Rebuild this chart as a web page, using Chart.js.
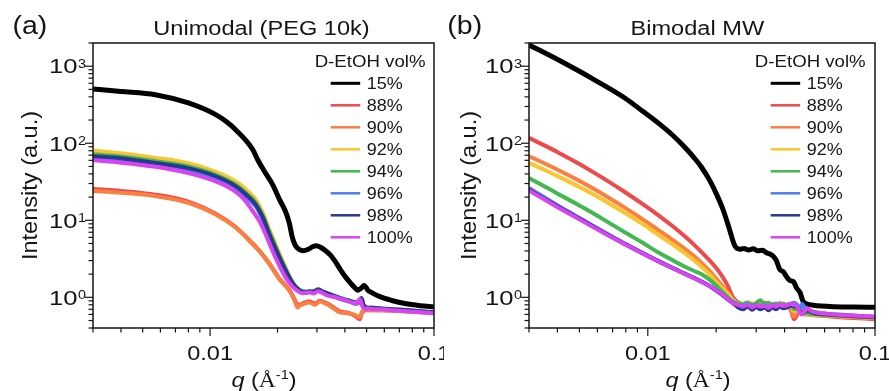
<!DOCTYPE html>
<html>
<head>
<meta charset="utf-8">
<title>SAXS curves</title>
<script src="https://cdn.jsdelivr.net/npm/chart.js@4.4.0/dist/chart.umd.min.js"></script>
<style>
  html, body { margin: 0; padding: 0; background: #fff; }
  #wrap { position: relative; width: 889px; height: 391px; overflow: hidden; }
  .panel { position: absolute; top: 0; height: 391px; }
  #panelA { left: 0; width: 444px; }
  #panelB { left: 444px; width: 445px; }
</style>
</head>
<body>
<div id="wrap">
  <div class="panel" id="panelA"><canvas id="chartA" width="444" height="391"></canvas></div>
  <div class="panel" id="panelB"><canvas id="chartB" width="445" height="391"></canvas></div>
</div>
<script>
// ---- data: legend entries ----
const seriesLabels = ['15%', '88%', '90%', '92%', '94%', '96%', '98%', '100%'];
const seriesColors = ['#000000', '#ec4a4b', '#fa7f40', '#fcc42e', '#41b94f', '#4f7ef3', '#27398f', '#d943f2'];

// ---- axis ticks ----
const xMajor = [0.01, 0.1];
const xMajorLabels = ['0.01', '0.1'];
const xMinor = [0.003, 0.004, 0.005, 0.006, 0.007, 0.008, 0.009, 0.02, 0.03, 0.04, 0.05, 0.06, 0.07, 0.08, 0.09];
const yMajor = [1, 10, 100, 1000];
const yMajorExp = ['0', '1', '2', '3'];
const yMinor = [0.4, 0.5, 0.6, 0.7, 0.8, 0.9, 2, 3, 4, 5, 6, 7, 8, 9, 20, 30, 40, 50, 60, 70, 80, 90,
                200, 300, 400, 500, 600, 700, 800, 900, 2000];

// ---- (a) Unimodal (PEG 10k) ----
const qA15 = [0.003, 0.004, 0.0057, 0.008, 0.0106, 0.0118, 0.013, 0.0155, 0.0163, 0.0175,
              0.019, 0.0204, 0.0217, 0.0226, 0.0233, 0.024, 0.0251, 0.0261, 0.0275, 0.0287,
              0.0299, 0.0311, 0.0328, 0.0345, 0.0364, 0.0383, 0.0403, 0.0424, 0.0442, 0.0456,
              0.0466, 0.0476, 0.0486, 0.0496, 0.0506, 0.0527, 0.0573, 0.0648, 0.0741, 0.0866, 0.1];
const iA15 = [506, 471, 427, 333, 235, 191, 150, 83, 61.5, 43,
              29.2, 18.7, 13.1, 9.15, 6.0, 4.75, 4.15, 4.03, 4.22, 4.54,
              4.68, 4.47, 4.03, 3.53, 2.86, 2.26, 1.83, 1.53, 1.34, 1.24,
              1.28, 1.34, 1.42, 1.36, 1.24, 1.15, 1.02, 0.91, 0.83, 0.78, 0.755];

const qAlow = [0.003, 0.004, 0.0057, 0.008, 0.0106, 0.013, 0.0155, 0.0169, 0.0184, 0.0204,
               0.0226, 0.0238, 0.0246, 0.0251, 0.0262, 0.0278, 0.0295, 0.0308, 0.0325, 0.0342,
               0.0379, 0.0415, 0.045, 0.0466, 0.0478, 0.0499, 0.053, 0.0575, 0.0657, 0.08, 0.1];
const iA88 = [25.5, 24, 21.5, 17.5, 12.2, 8.2, 5.0, 3.8, 2.75, 1.75,
              1.25, 0.95, 0.8, 0.8, 0.85, 0.88, 0.83, 0.9, 0.86, 0.8,
              0.66, 0.63, 0.56, 0.52, 0.64, 0.68, 0.68, 0.68, 0.67, 0.65, 0.63];
const iA90 = [24, 22.8, 20.6, 16.9, 11.9, 8.05, 4.9, 3.75, 2.7, 1.72,
              1.22, 0.92, 0.74, 0.78, 0.82, 0.86, 0.8, 0.89, 0.84, 0.78,
              0.64, 0.62, 0.58, 0.55, 0.66, 0.69, 0.68, 0.68, 0.67, 0.65, 0.63];

const qAmid = [0.003, 0.004, 0.0057, 0.008, 0.0106, 0.013, 0.0145, 0.016, 0.0172, 0.0184,
               0.0194, 0.0204, 0.0215, 0.0226, 0.0238, 0.025, 0.0262, 0.0278, 0.029, 0.0303,
               0.0318, 0.0342, 0.0365, 0.0392, 0.042, 0.045, 0.0466, 0.0474, 0.0485, 0.0499,
               0.0535, 0.0573, 0.065, 0.0754, 0.087, 0.1];
const iA92 = [80, 74, 64.5, 55, 42.5, 32, 25, 18.5, 12.5, 7.6,
              5.3, 3.7, 2.6, 1.9, 1.45, 1.25, 1.18, 1.16, 1.2, 1.22,
              1.15, 1.08, 1.0, 0.93, 0.88, 0.84, 0.88, 0.8, 0.76, 0.72,
              0.72, 0.7, 0.69, 0.67, 0.65, 0.63];
const iA94 = [72, 67.5, 58.5, 50, 39, 29, 22.5, 16.8, 11.5, 7.0,
              4.9, 3.45, 2.5, 1.85, 1.45, 1.27, 1.2, 1.18, 1.22, 1.24,
              1.18, 1.1, 1.03, 0.96, 0.91, 0.85, 0.93, 0.9, 0.79, 0.74,
              0.73, 0.71, 0.7, 0.68, 0.66, 0.64];
const iA96 = [64, 60, 52, 44.5, 35, 26, 20, 15, 10.2, 6.2,
              4.4, 3.15, 2.3, 1.75, 1.38, 1.2, 1.14, 1.17, 1.15, 1.22,
              1.16, 1.07, 1.0, 0.93, 0.88, 0.82, 0.88, 0.99, 0.77, 0.72,
              0.72, 0.71, 0.69, 0.67, 0.65, 0.63];
const iA98 = [68, 64, 55.5, 47.5, 37.3, 27.8, 21.5, 16, 10.9, 6.6,
              4.6, 3.3, 2.4, 1.8, 1.42, 1.24, 1.16, 1.2, 1.17, 1.27,
              1.2, 1.1, 1.02, 0.95, 0.9, 0.86, 0.9, 0.97, 0.8, 0.74,
              0.73, 0.72, 0.7, 0.685, 0.66, 0.64];

const qA100 = [0.003, 0.004, 0.0057, 0.008, 0.0106, 0.0126, 0.0142, 0.0153, 0.0166, 0.0177,
               0.0188, 0.0204, 0.0217, 0.0226, 0.0243, 0.026, 0.0278, 0.029, 0.0303, 0.0318,
               0.0335, 0.0366, 0.04, 0.043, 0.045, 0.0466, 0.0478, 0.049, 0.0505, 0.0535,
               0.0573, 0.065, 0.0754, 0.087, 0.1];
const iA100 = [60, 56, 49.5, 41, 32, 25, 18.7, 13.9, 9.8, 6.6,
               4.3, 2.56, 1.83, 1.53, 1.24, 1.13, 1.16, 1.12, 1.2, 1.14,
               1.05, 1.0, 0.92, 0.86, 0.84, 0.95, 0.78, 0.7, 0.72, 0.7,
               0.7, 0.68, 0.66, 0.64, 0.62];

// ---- (b) Bimodal MW ----
const qB15 = [0.003, 0.00403, 0.00565, 0.00792, 0.0095, 0.0111, 0.0128, 0.01455, 0.016, 0.01724,
              0.0188, 0.0202, 0.02147, 0.0228, 0.02417, 0.0254, 0.0265, 0.0278, 0.0291, 0.0305,
              0.032, 0.0333, 0.0345, 0.0357, 0.0368, 0.0381, 0.0395, 0.0408, 0.0422, 0.0437,
              0.0452, 0.0468, 0.0483, 0.0503, 0.0535, 0.058, 0.0655, 0.08, 0.1];
const iB15 = [1890, 1210, 700, 387, 260, 184, 129, 88.6, 64.7, 48.8,
              32.2, 20.9, 13.6, 7.9, 4.65, 4.21, 4.32, 4.12, 4.26, 4.02,
              4.1, 3.8, 3.65, 3.4, 3.0, 2.3, 2.15, 1.85, 1.65, 1.6,
              1.32, 1.15, 0.88, 0.82, 0.79, 0.77, 0.756, 0.75, 0.742];

const qB = [0.003, 0.0035, 0.00403, 0.0048, 0.00565, 0.0067, 0.00792, 0.0095, 0.0111, 0.0128,
            0.01455, 0.016, 0.01724, 0.0187, 0.02, 0.0213, 0.0225, 0.0237, 0.025, 0.0262,
            0.0275, 0.0288, 0.03, 0.0313, 0.0327, 0.034, 0.0353, 0.0367, 0.038, 0.0395,
            0.041, 0.0425, 0.044, 0.0455, 0.0467, 0.0478, 0.049, 0.0503, 0.0525, 0.056,
            0.062, 0.07, 0.08, 0.09, 0.1];
const iB88 = [117.5, 93.9, 76, 57.4, 43.5, 32, 23.3, 16.2, 11.7, 8.49,
              6.2, 4.8, 3.87, 3.01, 2.4, 1.86, 1.41, 1.0, 0.86, 0.8,
              0.84, 0.78, 0.83, 0.79, 0.85, 0.8, 0.82, 0.77, 0.84, 0.8,
              0.76, 0.7, 0.52, 0.6, 0.66, 0.62, 0.6, 0.6, 0.59, 0.58,
              0.57, 0.55, 0.54, 0.53, 0.52];
const iB90 = [67.9, 55, 45, 34.6, 26.6, 19.8, 14.6, 10.3, 7.5, 5.6,
              4.25, 3.4, 2.8, 2.2, 1.75, 1.4, 1.15, 0.93, 0.82, 0.78,
              0.83, 0.8, 0.76, 0.82, 0.78, 0.83, 0.79, 0.81, 0.76, 0.83,
              0.78, 0.74, 0.56, 0.65, 0.62, 0.64, 0.61, 0.61, 0.6, 0.59,
              0.58, 0.56, 0.55, 0.54, 0.53];
const iB92 = [55.5, 45.3, 37.2, 28.8, 22.4, 16.8, 12.5, 8.9, 6.5, 4.9,
              3.76, 3.02, 2.5, 1.98, 1.59, 1.3, 1.12, 0.92, 0.84, 0.8,
              0.78, 0.83, 0.79, 0.77, 0.82, 0.78, 0.8, 0.77, 0.82, 0.78,
              0.8, 0.76, 0.66, 0.68, 0.64, 0.63, 0.61, 0.6, 0.6, 0.59,
              0.58, 0.57, 0.56, 0.55, 0.54];
const iB94 = [35.3, 27.7, 22, 16.6, 12.7, 9.4, 7.0, 5.1, 3.85, 3.05,
              2.5, 2.2, 2.0, 1.7, 1.42, 1.18, 1.0, 0.88, 0.84, 0.82,
              0.86, 0.8, 0.84, 0.92, 0.8, 0.85, 0.78, 0.83, 0.8, 0.82,
              0.78, 0.8, 0.7, 0.72, 0.66, 0.68, 0.63, 0.62, 0.61, 0.6,
              0.59, 0.58, 0.57, 0.56, 0.55];
const iB96 = [26.2, 19.9, 15.5, 11.5, 8.7, 6.55, 4.98, 3.76, 2.98, 2.43,
              2.03, 1.79, 1.6, 1.41, 1.24, 1.09, 0.96, 0.86, 0.79, 0.77,
              0.81, 0.75, 0.8, 0.77, 0.79, 0.75, 0.8, 0.77, 0.81, 0.78,
              0.8, 0.83, 0.85, 0.8, 0.7, 0.82, 0.74, 0.7, 0.66, 0.63,
              0.61, 0.6, 0.58, 0.57, 0.56];
const iB98 = [25, 19.1, 15, 11.2, 8.55, 6.45, 4.93, 3.72, 2.95, 2.41,
              2.02, 1.78, 1.6, 1.4, 1.22, 1.07, 0.94, 0.84, 0.74, 0.7,
              0.76, 0.69, 0.75, 0.7, 0.74, 0.68, 0.74, 0.7, 0.76, 0.72,
              0.74, 0.78, 0.77, 0.74, 0.66, 0.62, 0.64, 0.68, 0.64, 0.61,
              0.6, 0.58, 0.57, 0.56, 0.55];
const iB100 = [24.4, 18.7, 14.7, 11.0, 8.4, 6.37, 4.89, 3.7, 2.94, 2.4,
               2.01, 1.77, 1.59, 1.4, 1.23, 1.08, 0.95, 0.84, 0.8, 0.76,
               0.8, 0.74, 0.79, 0.76, 0.78, 0.73, 0.79, 0.76, 0.8, 0.77,
               0.79, 0.82, 0.8, 0.76, 0.63, 0.6, 0.66, 0.72, 0.66, 0.63,
               0.61, 0.59, 0.58, 0.57, 0.56];

const panelAData = [[qA15, iA15], [qAlow, iA88], [qAlow, iA90], [qAmid, iA92],
                    [qAmid, iA94], [qAmid, iA96], [qAmid, iA98], [qA100, iA100]];
const panelBData = [[qB15, iB15], [qB, iB88], [qB, iB90], [qB, iB92],
                    [qB, iB94], [qB, iB96], [qB, iB98], [qB, iB100]];

// =========================
// drawing helpers
// =========================
const SANS = '"Liberation Sans", Arial, Helvetica, sans-serif';
const SERIF = '"Liberation Serif", "Times New Roman", serif';
const INK = '#151515';

function textWidth(ctx, s, size, sx, style, family) {
    ctx.save();
    ctx.font = (style ? style + ' ' : '') + size + 'px ' + (family || SANS);
    const w = ctx.measureText(s).width * sx;
    ctx.restore();
    return w;
}

function drawText(ctx, s, x, y, size, sx, align, style, family) {
    const w = textWidth(ctx, s, size, sx, style, family);
    let x0 = x;
    if (align === 'center') x0 = x - w / 2;
    else if (align === 'right') x0 = x - w;
    ctx.save();
    ctx.font = (style ? style + ' ' : '') + size + 'px ' + (family || SANS);
    ctx.fillStyle = INK;
    ctx.textAlign = 'left';
    ctx.textBaseline = 'alphabetic';
    ctx.translate(x0, y);
    ctx.scale(sx, 1);
    ctx.fillText(s, 0, 0);
    ctx.restore();
    return w;
}

function seg(ctx, x0, y0, x1, y1) {
    ctx.beginPath();
    ctx.moveTo(x0, y0);
    ctx.lineTo(x1, y1);
    ctx.stroke();
}

// frame, ticks, labels, titles and legend for one panel
function makeDeco(cfg) {
    return {
        id: 'panelDeco',
        afterDatasetsDraw(chart) {
            const ctx = chart.ctx;
            const xs = chart.scales.x;
            const ys = chart.scales.y;
            const a = chart.chartArea;

            ctx.save();
            ctx.strokeStyle = INK;
            ctx.lineWidth = 1.5;
            ctx.strokeRect(a.left, a.top, a.right - a.left, a.bottom - a.top);

            // ticks
            ctx.lineWidth = 1.2;
            xMinor.forEach(v => { const p = xs.getPixelForValue(v); seg(ctx, p, a.bottom, p, a.bottom + 4.5); });
            xMajor.forEach(v => { const p = xs.getPixelForValue(v); seg(ctx, p, a.bottom, p, a.bottom + 8); });
            yMinor.forEach(v => { const p = ys.getPixelForValue(v); seg(ctx, a.left, p, a.left - 4.5, p); });
            yMajor.forEach(v => { const p = ys.getPixelForValue(v); seg(ctx, a.left, p, a.left - 8, p); });
            ctx.restore();

            // x tick labels
            xMajor.forEach((v, k) => {
                drawText(ctx, xMajorLabels[k], xs.getPixelForValue(v), 360, 21, 1.12, 'center');
            });
            // y tick labels 10^n
            yMajor.forEach((v, k) => {
                const p = ys.getPixelForValue(v);
                const right = a.left - 7;
                const we = textWidth(ctx, yMajorExp[k], 12.5, 1.15);
                const wb = textWidth(ctx, '10', 20, 1.28);
                drawText(ctx, '10', right - we - wb - 0.5, p + 7.3, 20, 1.28, 'left');
                drawText(ctx, yMajorExp[k], right - we, p + 1.8, 12.5, 1.15, 'left');
            });

            // panel letter and title
            drawText(ctx, cfg.letter, cfg.letterX, 34, 25, 1.14, 'left');
            drawText(ctx, cfg.title, cfg.titleX, 35, 20, 1.18, 'center');

            // y axis title
            ctx.save();
            ctx.translate(cfg.yTitleX, (a.top + a.bottom) / 2);
            ctx.rotate(-Math.PI / 2);
            drawText(ctx, 'Intensity (a.u.)', 0, 0, 22, 1.07, 'center');
            ctx.restore();

            // x axis title: q (Å^-1)
            const parts = [
                { t: 'q', size: 21, style: 'italic', dy: 0 },
                { t: ' (', size: 21, dy: 0 },
                { t: 'Å', size: 21, family: SERIF, dy: 0 },
                { t: '-1', size: 13, dy: -8 },
                { t: ')', size: 21, dy: 0 }
            ];
            const sx = 1.12;
            let total = 0;
            parts.forEach(p => { p.w = textWidth(ctx, p.t, p.size, sx, p.style, p.family); total += p.w; });
            let cx = cfg.xTitleX - total / 2;
            parts.forEach(p => {
                drawText(ctx, p.t, cx, 387 + p.dy, p.size, sx, 'left', p.style, p.family);
                cx += p.w;
            });

            // legend
            drawText(ctx, 'D-EtOH vol%', cfg.legendRight, 66.5, 16.5, 1.13, 'right');
            seriesLabels.forEach((lab, k) => {
                const y = 83.3 + 22 * k;
                ctx.save();
                ctx.strokeStyle = seriesColors[k];
                ctx.lineWidth = k === 0 ? 3 : 2.5;
                seg(ctx, cfg.legendLine, y, cfg.legendLine + 29.5, y);
                ctx.restore();
                drawText(ctx, lab, cfg.legendLine + 36, y + 6, 16.5, 1.09, 'left');
            });
        }
    };
}

function buildDatasets(pairs) {
    return pairs.map(([q, inten], k) => ({
        label: seriesLabels[k],
        data: q.map((v, j) => ({ x: v, y: inten[j] })),
        borderColor: seriesColors[k],
        backgroundColor: seriesColors[k],
        borderWidth: k === 0 ? 5 : 4,
        pointRadius: 0,
        cubicInterpolationMode: 'monotone',
        fill: false,
        clip: 0,
        order: seriesLabels.length - k
    }));
}

function makeChart(canvasId, pairs, cfg) {
    const ctx = document.getElementById(canvasId).getContext('2d');
    return new Chart(ctx, {
        type: 'line',
        data: { datasets: buildDatasets(pairs) },
        options: {
            responsive: false,
            animation: false,
            devicePixelRatio: 1,
            layout: { padding: { top: 43, right: cfg.padRight, left: 0, bottom: 0 } },
            plugins: { legend: { display: false }, tooltip: { enabled: false }, title: { display: false } },
            scales: {
                x: {
                    type: 'logarithmic',
                    min: 0.003,
                    max: 0.1,
                    grid: { display: false },
                    border: { display: false },
                    ticks: { display: false },
                    afterFit: (s) => { s.height = 63; }
                },
                y: {
                    type: 'logarithmic',
                    min: 0.4,
                    max: 2000,
                    grid: { display: false },
                    border: { display: false },
                    ticks: { display: false },
                    afterFit: (s) => { s.width = cfg.yWidth; }
                }
            }
        },
        plugins: [makeDeco(cfg)]
    });
}

makeChart('chartA', panelAData, {
    yWidth: 93, padRight: 10,
    letter: '(a)', letterX: 12.5, title: 'Unimodal (PEG 10k)', titleX: 261.5,
    yTitleX: 37, xTitleX: 264,
    legendRight: 425.5, legendLine: 330.7
});
makeChart('chartB', panelBData, {
    yWidth: 85, padRight: 14,
    letter: '(b)', letterX: 3.3, title: 'Bimodal MW', titleX: 253.3,
    yTitleX: 32, xTitleX: 254,
    legendRight: 421.7, legendLine: 326.7
});
</script>
</body>
</html>
